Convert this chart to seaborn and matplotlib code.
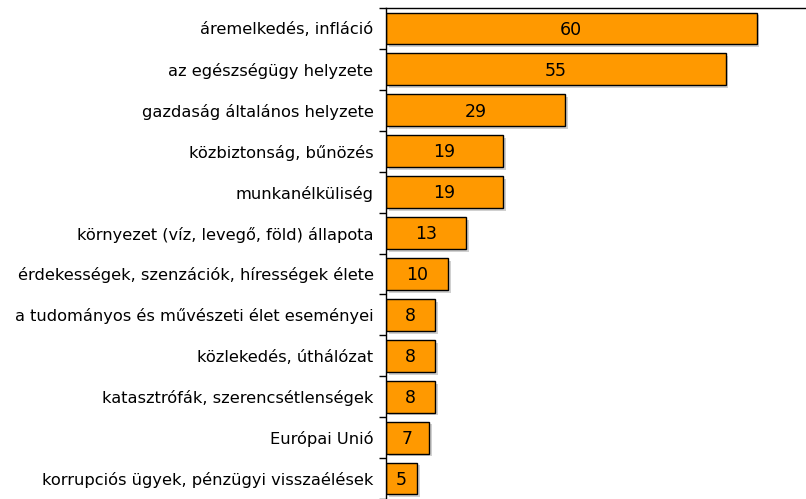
import matplotlib
matplotlib.use("Agg")
import matplotlib.pyplot as plt
import matplotlib.patheffects as pe
import seaborn as sns
import pandas as pd
import numpy as np

categories = [
    "áremelkedés, infláció",
    "az egészségügy helyzete",
    "gazdaság általános helyzete",
    "közbiztonság, bűnözés",
    "munkanélküliség",
    "környezet (víz, levegő, föld) állapota",
    "érdekességek, szenzációk, hírességek élete",
    "a tudományos és művészeti élet eseményei",
    "közlekedés, úthálózat",
    "katasztrófák, szerencsétlenségek",
    "Európai Unió",
    "korrupciós ügyek, pénzügyi visszaélések",
]
values = [60, 55, 29, 19, 19, 13, 10, 8, 8, 8, 7, 5]

df = pd.DataFrame({"cat": categories, "val": values})

sns.set_style("white")
plt.rcParams['font.family'] = ['DejaVu Sans']
plt.rcParams['text.color'] = 'black'
plt.rcParams['ytick.color'] = 'black'
plt.rcParams['ytick.labelcolor'] = 'black'

fig = plt.figure(figsize=(8.06, 4.99), dpi=100)
ax = fig.add_axes([386/806, 0, 420/806, 491/499])

sns.barplot(data=df, x="val", y="cat", orient="h", color="#FF9900",
            saturation=1, edgecolor="black", linewidth=1, width=0.78, ax=ax)

for p in ax.patches:
    p.set_path_effects([pe.SimplePatchShadow(offset=(2, -2), shadow_rgbFace="#d0d0d0", alpha=1), pe.Normal()])

for i, v in enumerate(values):
    ax.text(v / 2, i + 0.03, str(v), ha="center", va="center", fontsize=12.5, color="black")

ax.set_xlim(0, 68)
ax.set_ylim(len(categories) - 0.5, -0.5)
ax.set_xlabel("")
ax.set_ylabel("")
ax.set_xticks([])
ax.set_yticks(np.arange(len(categories)))
ax.set_yticklabels(categories, fontsize=11.7, color="black")
ax.tick_params(axis="y", which="major", left=True, length=0, pad=9)
ax.set_yticks(np.arange(len(categories) + 1) - 0.5, minor=True)
ax.tick_params(axis="y", which="minor", left=True, length=5, width=1, color="black", direction="out")

for s in ["right", "bottom"]:
    ax.spines[s].set_visible(False)
for s in ["left", "top"]:
    ax.spines[s].set_color("black")
    ax.spines[s].set_linewidth(1)

fig.savefig("out.png", dpi=100)
